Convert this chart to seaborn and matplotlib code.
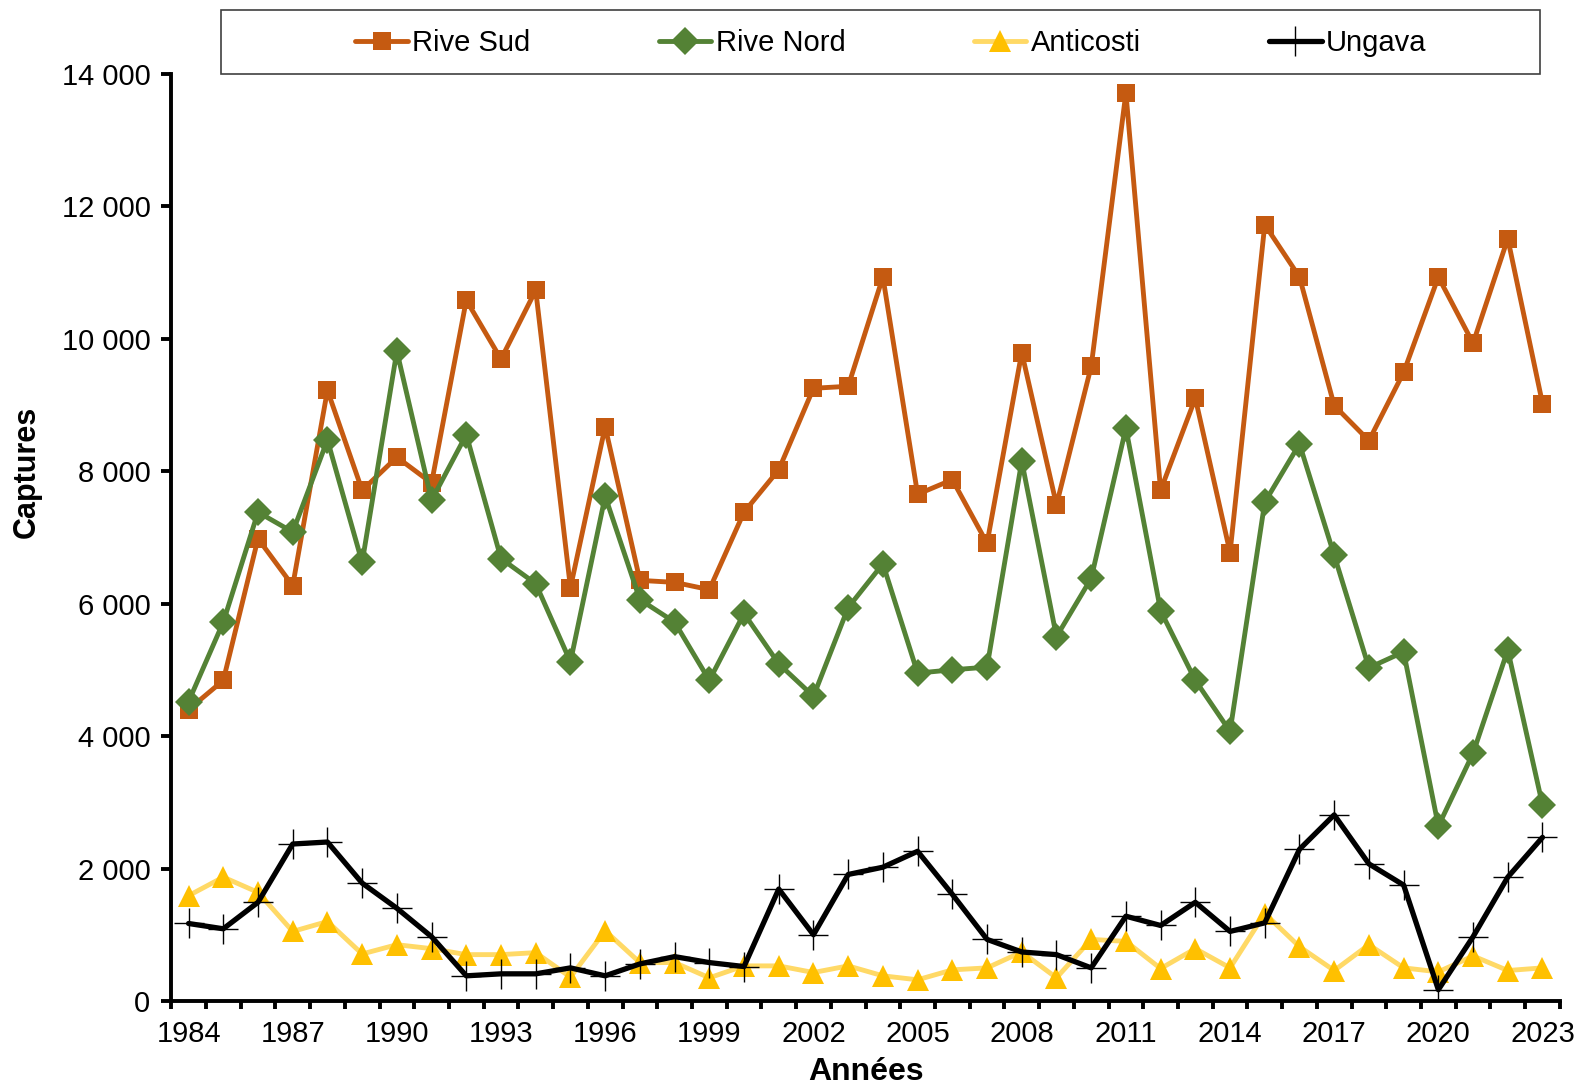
#Importing necessary libraries:
import numpy as np
import pandas as pd
import seaborn as sns
import matplotlib
matplotlib.use("Agg")
import matplotlib.pyplot as plt
from matplotlib.ticker import FuncFormatter, MultipleLocator
from matplotlib.patches import Rectangle

#Data (captures per year):
years = list(range(1984, 2024))

rive_sud = [4400, 4840, 6980, 6270, 9220, 7710, 8210, 7820, 10580, 9690,
            10730, 6240, 8670, 6350, 6320, 6210, 7380, 8020, 9250, 9280,
            10930, 7650, 7870, 6910, 9790, 7490, 9580, 13710, 7710, 9100,
            6770, 11720, 10930, 8990, 8460, 9490, 10930, 9930, 11510, 9020]

rive_nord = [4520, 5720, 7380, 7080, 8470, 6620, 9810, 7560, 8550, 6680,
             6300, 5120, 7620, 6060, 5720, 4840, 5850, 5090, 4600, 5940,
             6600, 4950, 5000, 5040, 8150, 5500, 6380, 8650, 5890, 4840,
             4070, 7530, 8410, 6730, 5030, 5270, 2640, 3740, 5300, 2960]

anticosti = [1590, 1870, 1640, 1050, 1200, 710, 850, 790, 700, 700,
             730, 360, 1060, 580, 580, 350, 530, 530, 430, 530,
             380, 320, 470, 500, 740, 350, 930, 900, 490, 790,
             500, 1320, 820, 460, 850, 500, 440, 680, 460, 500]

ungava = [1170, 1090, 1490, 2370, 2400, 1780, 1400, 970, 380, 410,
          410, 500, 380, 560, 670, 580, 520, 1690, 1000, 1910,
          2020, 2260, 1610, 930, 740, 700, 500, 1280, 1140, 1490,
          1050, 1180, 2290, 2810, 2070, 1750, 170, 970, 1870, 2470]

series_names = ["Rive Sud", "Rive Nord", "Anticosti", "Ungava"]

#Building a long table for seaborn:
wide_df = pd.DataFrame({"Année": years, "Rive Sud": rive_sud, "Rive Nord": rive_nord,
                        "Anticosti": anticosti, "Ungava": ungava})
long_df = wide_df.melt(id_vars="Année", var_name="Zone", value_name="Captures")

#Style of each series
styles = {
    "Rive Sud":  dict(color="#C55A11", marker="s", markersize=13.5, mfc="#C55A11", mec="#C55A11", mew=0, lw=3.5),
    "Rive Nord": dict(color="#548235", marker="D", markersize=14, mfc="#548235", mec="#548235", mew=0, lw=3.5),
    "Anticosti": dict(color="#FFD966", marker="^", markersize=16, mfc="#FFC000", mec="#FFC000", mew=0, lw=3.5),
    "Ungava":    dict(color="#000000", marker="+", markersize=22, mfc="#000000", mec="#000000", mew=1.0, lw=3.8),
}

sns.set_style("white")
plt.rcParams['font.family'] = ['Liberation Sans', 'DejaVu Sans']
plt.rcParams['text.color'] = 'black'
plt.rcParams['axes.labelcolor'] = 'black'
plt.rcParams['xtick.color'] = 'black'
plt.rcParams['ytick.color'] = 'black'

fig = plt.figure(figsize=(15.78, 10.91), dpi=100)
ax = fig.add_axes([0.1085, 0.0825, 0.8800, 0.8500])

for name in series_names:
    st = styles[name]
    sns.lineplot(data=long_df[long_df["Zone"] == name], x="Année", y="Captures",
                 ax=ax, color=st["color"], lw=st["lw"], marker=st["marker"],
                 markersize=st["markersize"], markerfacecolor=st["mfc"],
                 markeredgecolor=st["mec"], markeredgewidth=st["mew"],
                 label=name, legend=False)

#Axes formatting
ax.set_xlim(1983.5, 2023.5)
ax.set_ylim(0, 14000)
ax.set_xticks(years[::3])
ax.xaxis.set_minor_locator(MultipleLocator(1, offset=0.5))
ax.yaxis.set_major_locator(MultipleLocator(2000))
ax.yaxis.set_major_formatter(FuncFormatter(lambda v, p: f"{v:,.0f}".replace(",", " ")))

for side in ["top", "right"]:
    ax.spines[side].set_visible(False)
for side in ["left", "bottom"]:
    ax.spines[side].set_linewidth(2.8)
    ax.spines[side].set_color("black")

ax.tick_params(axis="x", which="major", bottom=True, length=0, pad=14, labelsize=21)
ax.tick_params(axis="x", which="minor", bottom=True, length=6, width=2.8, direction="out", color="black")
ax.tick_params(axis="y", which="major", left=True, length=7, width=2.8, direction="out", pad=8, labelsize=21, color="black")

ax.set_xlabel("Années", fontsize=23, fontweight="bold", labelpad=6)
ax.set_ylabel("Captures", fontsize=22, fontweight="bold")
ax.yaxis.set_label_coords(-0.093, 0.571)

#Legend on top with its own frame
fig.patches.append(Rectangle((221/1578, 1 - 74/1091), (1540-221)/1578, 64/1091,
                             transform=fig.transFigure, fill=False, edgecolor="#404040", lw=1.2))
handles, labels = ax.get_legend_handles_labels()
fig.legend(handles, labels, loc="center", bbox_to_anchor=(891/1578, 1 - 43/1091),
           ncol=4, frameon=False, fontsize=21, handlelength=1.8, handletextpad=0.15,
           columnspacing=4.4)

fig.savefig("out.png", dpi=100)
